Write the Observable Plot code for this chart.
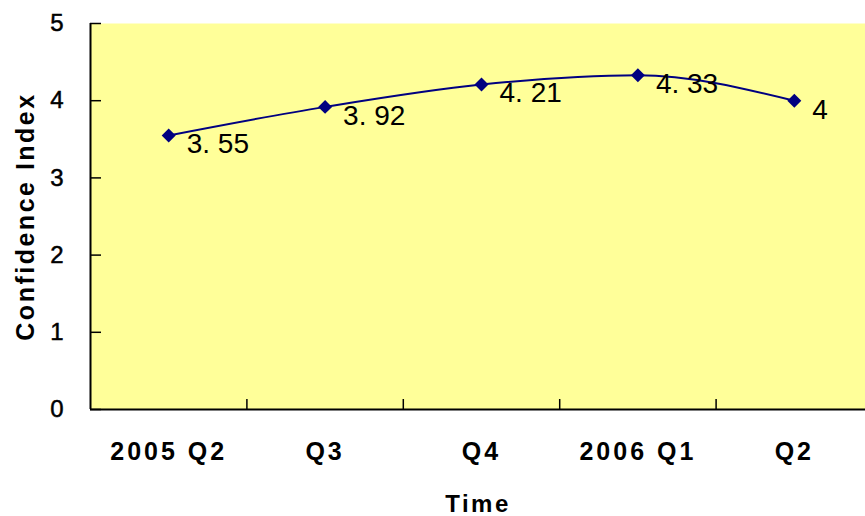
<!DOCTYPE html>
<html><head><meta charset="utf-8">
<script src="https://cdn.jsdelivr.net/npm/d3@7"></script>
<script src="https://cdn.jsdelivr.net/npm/@observablehq/plot@0.6"></script>
<style>
body{margin:0;background:#fff}
.xl text{letter-spacing:3px}
.ttl text{letter-spacing:2.5px}
.yl text{stroke:#000;stroke-width:0.5px}
</style></head><body><div id="chart"></div>
<script>
const categories = ["2005 Q2", "Q3", "Q4", "2006 Q1", "Q2"];
const values = [3.55, 3.92, 4.21, 4.33, 4];
const valueLabels = ["3. 55", "3. 92", "4. 21", "4. 33", "4"];
const yTicks = [0, 1, 2, 3, 4, 5];

const data = categories.map((c, i) => ({i, c, v: values[i], label: valueLabels[i]}));
const centers = d3.range(categories.length);
const boundaries = d3.range(categories.length - 1).map(i => i + 0.5);
const xMin = -0.5;
const font = '"Liberation Sans", Arial, sans-serif';

const chart = Plot.plot({
  width: 865, height: 516,
  marginLeft: 90, marginRight: 0, marginTop: 23, marginBottom: 107,
  style: {fontFamily: font, background: "#fff", color: "#000"},
  x: {domain: [xMin, categories.length - 0.5], range: [90, 872]},
  y: {domain: [0, 5]},
  marks: [
    Plot.frame({fill: "#FFFF99", stroke: null}),
    Plot.axisY({ticks: yTicks, tickSize: 11, dx: 11, text: null, label: null, strokeWidth: 1.5}),
    Plot.text(yTicks, {x: xMin, y: d => d, text: d => String(d), textAnchor: "end", dx: -27, fontSize: 24, className: "yl"}),
    Plot.axisX({ticks: boundaries, tickSize: 10, dy: -10, text: null, label: null, strokeWidth: 1.5}),
    Plot.text(data, {x: "i", text: "c", frameAnchor: "bottom", dy: 50, fontSize: 25, fontWeight: "bold", className: "xl"}),
    Plot.ruleX([xMin], {strokeWidth: 2}),
    Plot.ruleY([0], {strokeWidth: 2}),
    Plot.line(data, {x: "i", y: "v", stroke: "#000080", strokeWidth: 2, curve: "monotone-x"}),
    Plot.dot(data, {x: "i", y: "v", symbol: "diamond2", fill: "#000080", stroke: null, r: 6.3}),
    Plot.text(data, {x: "i", y: "v", text: "label", textAnchor: "start", dx: 18, dy: 9, fontSize: 28}),
    Plot.text(["Confidence Index"], {text: d => d, frameAnchor: "left", textAnchor: "middle", rotate: -90, dx: -65, fontSize: 25, fontWeight: "bold", className: "ttl"}),
    Plot.text(["Time"], {text: d => d, frameAnchor: "bottom", lineAnchor: "bottom", dy: 102, fontSize: 24, fontWeight: "bold", className: "ttl"})
  ]
});
document.getElementById("chart").append(chart);
</script></body></html>
